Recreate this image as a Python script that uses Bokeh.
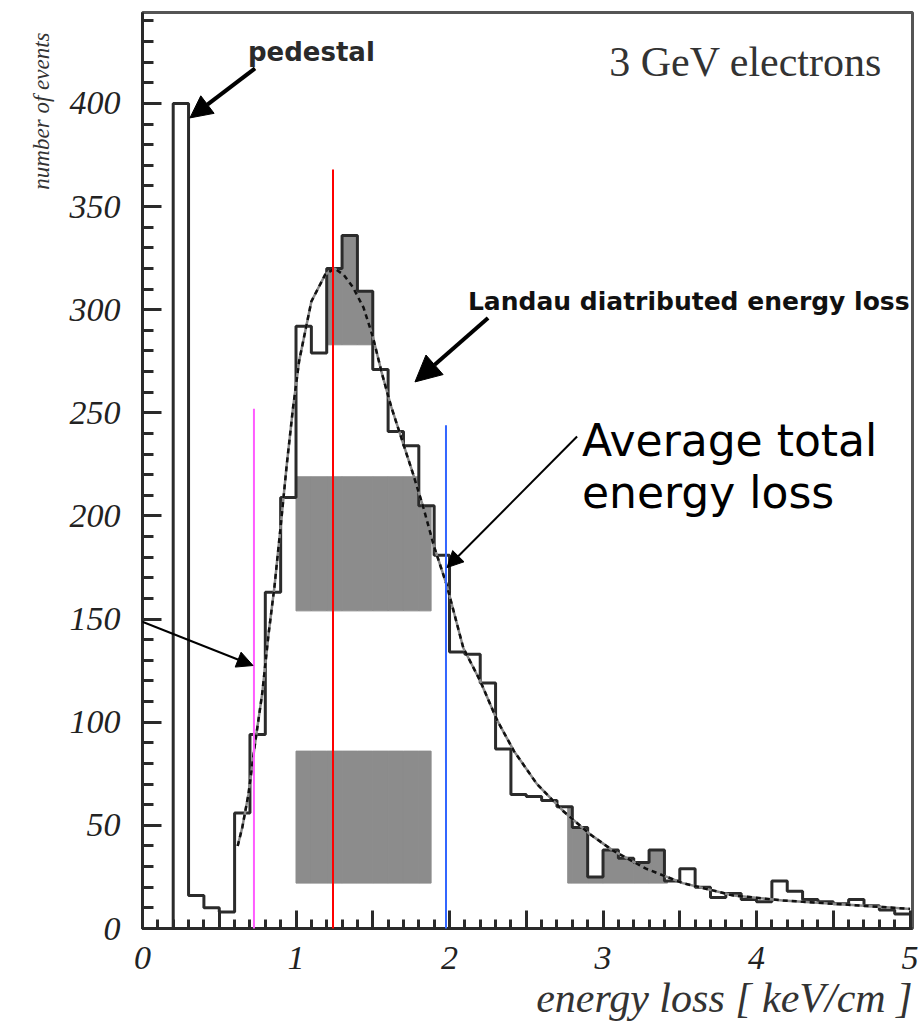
from bokeh.plotting import figure
from bokeh.models import FixedTicker, Label, Arrow, NormalHead, BoxAnnotation, Title
from bokeh.embed import file_html
from bokeh.resources import INLINE

# ---------------- data ----------------
bin_start = 0.0
bin_width = 0.1
counts = [0, 0, 400, 16, 10, 8, 56, 94, 163, 209,
          292, 279, 320, 336, 309, 271, 241, 234, 205, 181,
          134, 133, 119, 87, 65, 64, 62, 59, 49, 25,
          38, 34, 32, 38, 23, 29, 20, 15, 17, 14,
          13, 23, 18, 14, 13, 12, 14, 11, 9, 7]

fit_x = [0.62, 0.65, 0.69, 0.73, 0.78, 0.82, 0.86, 0.90, 0.94, 0.98, 1.02,
         1.10, 1.19, 1.25, 1.31, 1.37, 1.44, 1.50, 1.56, 1.62, 1.69, 1.76,
         1.83, 1.90, 1.98, 2.09, 2.20, 2.31, 2.42, 2.57, 2.74, 2.91, 3.06,
         3.28, 3.52, 3.85, 4.17, 4.50, 4.80, 5.00]
fit_y = [40, 49, 65, 88, 114, 142, 166, 195, 225, 252, 275,
         304, 317, 320, 317, 311, 301, 287, 269, 253, 237, 221,
         204, 185, 167, 136, 120, 101, 86, 70, 57, 46, 38,
         29, 22, 16, 13.6, 12, 10.5, 9.5]

# shaded (checkered) bands under the histogram
shade_x0 = [1.20, 1.00, 1.00, 2.77]
shade_x1 = [1.50, 1.88, 1.88, 3.42]
shade_y0 = [283, 154, 22, 22]
shade_y1 = [444, 219, 86, 444]

# coloured vertical marker lines
marker_x = [0.726, 1.241, 1.977]
marker_top = [252, 368, 244]
marker_colors = ["#ff5cff", "#ff0000", "#3366ff"]

x_major = [0, 0.5, 1, 1.5, 2, 2.5, 3, 3.5, 4, 4.5, 5]
x_major_labels = ["0", "", "1", "", "2", "", "3", "", "4", "", "5"]
x_minor = [round(i * 0.1, 1) for i in range(51)]
y_major = [0, 50, 100, 150, 200, 250, 300, 350, 400]
y_minor = list(range(0, 450, 10))

# ---------------- derived geometry ----------------
edges = [bin_start + i * bin_width for i in range(len(counts) + 1)]
step_x, step_y = [edges[0]], [0]
for i, c in enumerate(counts):
    step_x += [edges[i], edges[i + 1]]
    step_y += [c, c]

ql, qr, qb, qt = [], [], [], []
for x0, x1, y0, y1 in zip(shade_x0, shade_x1, shade_y0, shade_y1):
    for i, c in enumerate(counts):
        lo, hi = max(edges[i], x0), min(edges[i + 1], x1)
        top = min(c, y1)
        if hi > lo and top > y0:
            ql.append(lo); qr.append(hi); qb.append(y0); qt.append(top)

# ---------------- figure ----------------
p = figure(frame_width=770, frame_height=916, x_range=(0, 5.016), y_range=(0, 444.1),
           output_backend="svg", toolbar_location=None,
           min_border_left=142, min_border_right=10, min_border_top=12,
           min_border_bottom=20, background_fill_color="white",
           border_fill_color="white")
p.xgrid.visible = False
p.ygrid.visible = False
p.outline_line_color = "#555555"
p.outline_line_width = 3

for ax in (p.xaxis[0], p.yaxis[0]):
    ax.axis_line_color = "#2a2a2a"
    ax.axis_line_width = 3
    ax.major_tick_line_color = "#2a2a2a"
    ax.minor_tick_line_color = "#2a2a2a"
    ax.major_tick_line_width = 3
    ax.minor_tick_line_width = 3
    ax.major_tick_out = 0
    ax.minor_tick_out = 0
    ax.major_label_text_font = "Liberation Serif"
    ax.major_label_text_font_style = "italic"
    ax.major_label_text_font_size = "34px"
    ax.major_label_text_color = "#222222"

p.xaxis[0].ticker = FixedTicker(ticks=x_major, minor_ticks=x_minor)
p.xaxis[0].major_label_overrides = {t: l for t, l in zip(x_major, x_major_labels)}
p.xaxis[0].major_tick_in = 18
p.xaxis[0].minor_tick_in = 9
p.xaxis[0].major_label_standoff = 18

p.yaxis[0].ticker = FixedTicker(ticks=y_major, minor_ticks=y_minor)
p.yaxis[0].major_tick_in = 19
p.yaxis[0].minor_tick_in = 11
p.yaxis[0].major_label_standoff = 22

# axis titles as side titles (aligned to the far end of each axis)
p.add_layout(Title(text="energy loss [ keV/cm ]", align="right",
                   text_font="Liberation Serif", text_font_style="italic",
                   text_font_size="42px", text_color="#333333",
                   standoff=3), "below")
p.add_layout(Title(text="number of events", align="right", offset=20,
                   text_font="Liberation Serif", text_font_style="italic",
                   text_font_size="23px", text_color="#333333",
                   standoff=26), "left")

# shaded bands
p.quad(left=ql, right=qr, bottom=qb, top=qt, fill_color="#8c8c8c",
       line_color="#8c8c8c", line_width=1)

# histogram outline
p.line(step_x, step_y, line_color="#2b2b2b", line_width=3)

# fit curve (dashed black over grey)
p.line(fit_x, fit_y, line_color="#8a8a8a", line_width=2.5)
p.line(fit_x, fit_y, line_color="#111111", line_width=2.5, line_dash="5 4")

# vertical marker lines
for mx, mt, mc in zip(marker_x, marker_top, marker_colors):
    p.add_layout(BoxAnnotation(left=mx, right=mx, bottom=-60, top=mt,
                               fill_alpha=0, line_color=mc, line_width=2,
                               line_alpha=1))

# arrows
p.add_layout(Arrow(end=NormalHead(size=22, fill_color="black", line_color="black"),
                   x_start=0.733, y_start=417, x_end=0.309, y_end=393,
                   line_width=4, line_color="black"))
p.add_layout(Arrow(end=NormalHead(size=26, fill_color="black", line_color="black"),
                   x_start=2.251, y_start=296, x_end=1.775, y_end=265,
                   line_width=4, line_color="black"))
p.add_layout(Arrow(end=NormalHead(size=16, fill_color="black", line_color="black"),
                   x_start=2.831, y_start=238.5, x_end=1.984, y_end=175,
                   line_width=2, line_color="black"))
p.add_layout(Arrow(end=NormalHead(size=16, fill_color="black", line_color="black"),
                   x_start=-0.928, y_start=176, x_end=0.720, y_end=127.5,
                   line_width=2, line_color="black"))

# texts
p.add_layout(Label(x=4.818, y=420, text="3 GeV electrons", text_align="right",
                   text_baseline="alphabetic", text_font="Liberation Serif",
                   text_font_size="42px", text_color="#333333"))
p.add_layout(Label(x=0.687, y=425, text="pedestal", text_align="left",
                   text_baseline="alphabetic", text_font="DejaVu Sans",
                   text_font_style="bold", text_font_size="26px",
                   text_color="#2a2a2a"))
p.add_layout(Label(x=2.12, y=304, text="Landau diatributed energy loss",
                   text_align="left", text_baseline="alphabetic",
                   text_font="DejaVu Sans", text_font_style="bold",
                   text_font_size="25px", text_color="#111111"))
p.add_layout(Label(x=2.863, y=236.5, text="Average total", text_align="left",
                   text_baseline="alphabetic", text_font="DejaVu Sans",
                   text_font_size="44px", text_color="#000000"))
p.add_layout(Label(x=2.863, y=211.5, text="energy loss", text_align="left",
                   text_baseline="alphabetic", text_font="DejaVu Sans",
                   text_font_size="44px", text_color="#000000"))

open("out.html", "w").write(file_html(p, INLINE))
